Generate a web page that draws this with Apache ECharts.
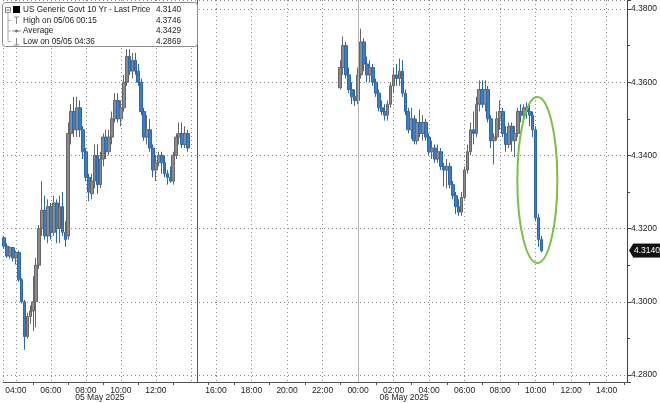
<!DOCTYPE html>
<html><head><meta charset="utf-8">
<script src="https://cdn.jsdelivr.net/npm/echarts@6/dist/echarts.min.js"></script>
<style>html,body{margin:0;padding:0;background:#fff}#c{width:660px;height:403px}</style>
</head><body><div id="c"></div>
<script>
// ---- Data: 10-minute bars, US Generic Govt 10 Yr yield ----
// Session 1 (05 May 2025)
const s1Times = ['03:20','03:30','03:40','03:50','04:00','04:10','04:20','04:30','04:40','04:50',
  '05:00','05:10','05:20','05:30','05:40','05:50','06:00','06:10','06:20','06:30','06:40','06:50',
  '07:00','07:10','07:20','07:30','07:40','07:50','08:00','08:10','08:20','08:30','08:40','08:50',
  '09:00','09:10','09:20','09:30','09:40','09:50','10:00','10:10','10:20','10:30','10:40','10:50',
  '11:00','11:10','11:20','11:30','11:40','11:50','12:00','12:10','12:20','12:30','12:40','12:50',
  '13:00','13:10','13:20','13:30','13:40','13:50'];
const s1Open  = [4.3175,4.3152,4.3125,4.3148,4.3120,4.3135,4.3060,4.3000,4.2905,4.2960,
  4.2975,4.3000,4.3100,4.3200,4.3250,4.3180,4.3260,4.3190,4.3270,4.3200,4.3260,4.3190,
  4.3180,4.3460,4.3520,4.3470,4.3530,4.3470,4.3410,4.3340,4.3295,4.3330,4.3400,4.3320,
  4.3390,4.3450,4.3410,4.3450,4.3500,4.3550,4.3500,4.3530,4.3600,4.3670,4.3630,4.3660,
  4.3630,4.3600,4.3520,4.3450,4.3470,4.3420,4.3360,4.3380,4.3400,4.3380,4.3350,4.3340,
  4.3330,4.3400,4.3450,4.3460,4.3430,4.3460];
const s1Close = [4.3152,4.3125,4.3148,4.3120,4.3135,4.3060,4.3000,4.2905,4.2960,4.2975,
  4.3000,4.3100,4.3200,4.3250,4.3180,4.3260,4.3190,4.3270,4.3200,4.3260,4.3190,4.3170,
  4.3460,4.3520,4.3470,4.3530,4.3470,4.3410,4.3340,4.3300,4.3330,4.3400,4.3320,4.3390,
  4.3450,4.3410,4.3450,4.3500,4.3550,4.3500,4.3530,4.3600,4.3670,4.3630,4.3660,4.3630,
  4.3600,4.3520,4.3450,4.3470,4.3420,4.3360,4.3380,4.3400,4.3380,4.3350,4.3340,4.3330,
  4.3400,4.3450,4.3460,4.3430,4.3460,4.3420];
const s1Low   = [4.3145,4.3120,4.3118,4.3110,4.3102,4.3055,4.2995,4.2869,4.2900,4.2940,
  4.2920,4.2930,4.3090,4.3180,4.3170,4.3160,4.3170,4.3180,4.3160,4.3160,4.3180,4.3150,
  4.3170,4.3430,4.3450,4.3450,4.3450,4.3390,4.3330,4.3275,4.3280,4.3310,4.3295,4.3310,
  4.3370,4.3390,4.3400,4.3430,4.3490,4.3490,4.3480,4.3520,4.3590,4.3620,4.3610,4.3620,
  4.3590,4.3510,4.3440,4.3430,4.3410,4.3340,4.3330,4.3370,4.3350,4.3340,4.3320,4.3325,
  4.3320,4.3390,4.3430,4.3420,4.3420,4.3410];
const s1High  = [4.3180,4.3160,4.3152,4.3150,4.3140,4.3140,4.3065,4.3005,4.2970,4.2990,
  4.3070,4.3120,4.3210,4.3330,4.3290,4.3280,4.3270,4.3290,4.3280,4.3290,4.3300,4.3220,
  4.3490,4.3540,4.3560,4.3560,4.3550,4.3480,4.3420,4.3350,4.3350,4.3430,4.3430,4.3410,
  4.3460,4.3470,4.3470,4.3520,4.3570,4.3570,4.3550,4.3620,4.3690,4.3690,4.3680,4.3680,
  4.3650,4.3610,4.3530,4.3510,4.3500,4.3430,4.3400,4.3410,4.3410,4.3400,4.3360,4.3370,
  4.3410,4.3460,4.3490,4.3490,4.3480,4.3470];

// Session 2 (05 May 23:00 -> 06 May 10:20)
const s2Times = ['05/05 23:00','05/05 23:10','05/05 23:20','05/05 23:30','05/05 23:40','05/05 23:50',
  '05/06 00:00','05/06 00:10','05/06 00:20','05/06 00:30','05/06 00:40','05/06 00:50',
  '05/06 01:00','05/06 01:10','05/06 01:20','05/06 01:30','05/06 01:40','05/06 01:50',
  '05/06 02:00','05/06 02:10','05/06 02:20','05/06 02:30','05/06 02:40','05/06 02:50',
  '05/06 03:00','05/06 03:10','05/06 03:20','05/06 03:30','05/06 03:40','05/06 03:50',
  '05/06 04:00','05/06 04:10','05/06 04:20','05/06 04:30','05/06 04:40','05/06 04:50',
  '05/06 05:00','05/06 05:10','05/06 05:20','05/06 05:30','05/06 05:40','05/06 05:50',
  '05/06 06:00','05/06 06:10','05/06 06:20','05/06 06:30','05/06 06:40','05/06 06:50',
  '05/06 07:00','05/06 07:10','05/06 07:20','05/06 07:30','05/06 07:40','05/06 07:50',
  '05/06 08:00','05/06 08:10','05/06 08:20','05/06 08:30','05/06 08:40','05/06 08:50',
  '05/06 09:00','05/06 09:10','05/06 09:20','05/06 09:30','05/06 09:40','05/06 09:50',
  '05/06 10:00','05/06 10:10','05/06 10:20'];
const s2Open  = [4.3585,4.3640,4.3700,4.3620,4.3580,4.3560,
  4.3550,4.3620,4.3710,4.3650,4.3620,4.3640,
  4.3600,4.3570,4.3530,4.3520,4.3510,4.3540,
  4.3590,4.3620,4.3610,4.3630,4.3570,4.3520,
  4.3470,4.3500,4.3440,4.3490,4.3460,4.3490,
  4.3450,4.3410,4.3420,4.3390,4.3410,4.3370,
  4.3360,4.3370,4.3320,4.3290,4.3260,4.3245,
  4.3285,4.3360,4.3410,4.3470,4.3460,4.3540,
  4.3580,4.3540,4.3580,4.3500,4.3440,4.3450,
  4.3500,4.3520,4.3460,4.3430,4.3480,4.3440,
  4.3460,4.3520,4.3510,4.3530,4.3520,4.3510,
  4.3470,4.3230,4.3170];
const s2Close = [4.3640,4.3700,4.3620,4.3580,4.3560,4.3550,
  4.3620,4.3710,4.3650,4.3620,4.3640,4.3600,
  4.3570,4.3530,4.3520,4.3510,4.3540,4.3590,
  4.3620,4.3610,4.3630,4.3570,4.3520,4.3470,
  4.3500,4.3440,4.3490,4.3460,4.3490,4.3450,
  4.3410,4.3420,4.3390,4.3410,4.3370,4.3360,
  4.3370,4.3320,4.3290,4.3260,4.3245,4.3285,
  4.3360,4.3410,4.3470,4.3460,4.3540,4.3580,
  4.3540,4.3580,4.3500,4.3440,4.3450,4.3500,
  4.3520,4.3460,4.3430,4.3480,4.3440,4.3460,
  4.3520,4.3510,4.3530,4.3520,4.3510,4.3470,
  4.3230,4.3170,4.3140];
const s2Low   = [4.3580,4.3620,4.3610,4.3570,4.3540,4.3535,
  4.3540,4.3610,4.3630,4.3600,4.3600,4.3590,
  4.3560,4.3520,4.3510,4.3495,4.3495,4.3530,
  4.3570,4.3590,4.3590,4.3560,4.3510,4.3460,
  4.3445,4.3430,4.3430,4.3450,4.3440,4.3440,
  4.3400,4.3390,4.3380,4.3380,4.3360,4.3315,
  4.3310,4.3310,4.3280,4.3240,4.3235,4.3235,
  4.3280,4.3350,4.3400,4.3430,4.3450,4.3520,
  4.3530,4.3520,4.3490,4.3420,4.3375,4.3440,
  4.3470,4.3450,4.3410,4.3420,4.3410,4.3395,
  4.3450,4.3490,4.3500,4.3500,4.3480,4.3450,
  4.3220,4.3150,4.3135];
const s2High  = [4.3660,4.3725,4.3710,4.3640,4.3600,4.3580,
  4.3640,4.3746,4.3720,4.3670,4.3660,4.3650,
  4.3610,4.3580,4.3550,4.3540,4.3550,4.3600,
  4.3640,4.3650,4.3665,4.3660,4.3580,4.3530,
  4.3530,4.3510,4.3500,4.3525,4.3510,4.3500,
  4.3460,4.3440,4.3430,4.3430,4.3420,4.3380,
  4.3390,4.3380,4.3330,4.3300,4.3280,4.3300,
  4.3370,4.3430,4.3490,4.3520,4.3560,4.3605,
  4.3605,4.3605,4.3590,4.3510,4.3460,4.3520,
  4.3550,4.3530,4.3480,4.3490,4.3490,4.3480,
  4.3530,4.3540,4.3540,4.3545,4.3540,4.3520,
  4.3480,4.3240,4.3180];

const yTickLabels = ['4.2800','4.3000','4.3200','4.3400','4.3600','4.3800'];
const legendRows = [
  {label:'US Generic Govt 10 Yr - Last Price', value:'4.3140'},
  {label:'High on 05/06 00:15', value:'4.3746'},
  {label:'Average', value:'4.3429'},
  {label:'Low on 05/05 04:36', value:'4.2869'}
];
const lastPrice = 4.3140;
const dayLabels = [{text:'05 May 2025', grid:0, at:8.8}, {text:'06 May 2025', grid:1, at:26.6}];

// ---- helpers ----
function hoursS1(t){ const [h,m]=t.split(':').map(Number); return h+m/60; }
function hoursS2(t){ const d=parseInt(t.slice(3,5),10); const [h,m]=t.slice(6).split(':').map(Number); return (d-5)*24+h+m/60; }
const s1Data = s1Times.map((t,i)=>[hoursS1(t), s1Open[i], s1Close[i], s1Low[i], s1High[i]]);
const s2Data = s2Times.map((t,i)=>[hoursS2(t), s2Open[i], s2Close[i], s2Low[i], s2High[i]]);

const FONT = 'Liberation Sans';
const yMin = 4.27809, yMax = 4.38246;
const x2Max = 39.15;
const pad = n => (n<10?'0':'')+n;
function xLabel(lo, hi){ return v => { const r=Math.round(v*1000)/1000; return (r>=lo && r<=hi && r%2===0) ? pad(((r%24)+24)%24)+':00' : ''; }; }

const dotted = {show:true, lineStyle:{type:[1,3], color:'#8a8a8a', width:1}};
function xAxisCfg(gi, min, max, lo, hi){
  return {type:'value', gridIndex:gi, min:min, max:max, minInterval:2, maxInterval:2,
    axisLine:{show:true, lineStyle:{color:'#555', width:1}},
    axisTick:{show:false},
    minorTick:{show:true, splitNumber:2, length:3, lineStyle:{color:'#555'}},
    minorSplitLine:{show:false},
    splitLine:dotted,
    axisLabel:{formatter:xLabel(lo,hi), color:'#222', fontSize:8.5, fontFamily:FONT, margin:4, showMinLabel:true, showMaxLabel:true}};
}
function yAxisCfg(gi, visible){
  return {type:'value', gridIndex:gi, position:'right', min:yMin, max:yMax,
    minInterval:0.02, maxInterval:0.02,
    axisLine:{show:visible, lineStyle:{color:'#444', width:1}},
    axisTick:{show:visible, length:4, lineStyle:{color:'#444'}},
    minorTick:{show:visible, splitNumber:2, length:3, lineStyle:{color:'#444'}},
    splitLine:dotted,
    axisLabel:{show:visible, showMinLabel:false, showMaxLabel:false, color:'#222', fontSize:8.5, fontFamily:FONT, margin:4,
      formatter:v=>{const s=v.toFixed(4); return yTickLabels.indexOf(s)>=0?s:'';}}};
}
const candleStyle = {color:'#8b8b8b', color0:'#3c7ec6', borderColor:'#666', borderColor0:'#2a68ad', borderWidth:1};

const chart = echarts.init(document.getElementById('c'), null, {renderer:'canvas'});
chart.setOption({
  animation:false,
  backgroundColor:'#fff',
  grid:[
    {left:0, top:0, width:216, bottom:21},
    {left:216, top:0, right:32, bottom:21}
  ],
  xAxis:[ xAxisCfg(0, 3.268, 15.437, 4, 12), xAxisCfg(1, 16, x2Max, 16, 38) ],
  yAxis:[ yAxisCfg(0, false), yAxisCfg(1, true) ],
  series:[
    {type:'candlestick', xAxisIndex:0, yAxisIndex:0, data:s1Data, encode:{x:0, y:[1,2,3,4]},
      barWidth:3.2, itemStyle:candleStyle,
      markLine:{silent:true, symbol:'none', label:{show:false}, lineStyle:{type:'solid', color:'#555', width:1},
        data:[{xAxis:14.366}]}},
    {type:'candlestick', xAxisIndex:1, yAxisIndex:1, data:s2Data, encode:{x:0, y:[1,2,3,4]},
      barWidth:3.2, itemStyle:candleStyle,
      markLine:{silent:true, symbol:'none', label:{show:false},
        lineStyle:{type:'solid', color:'#b5b5b5', width:1},
        data:[{xAxis:24}]}}
  ]
});

// ---- annotations positioned from data coordinates ----
const g = [];
dayLabels.forEach(d=>{
  const p = chart.convertToPixel({gridIndex:d.grid}, [d.at, yMin]);
  g.push({type:'text', x:p[0], y:398, style:{text:d.text, fill:'#222', font:'8.5px '+FONT, align:'center', verticalAlign:'middle'}});
});
const ec = chart.convertToPixel({gridIndex:1}, [34.1, 4.3333]);
g.push({type:'ellipse', shape:{cx:ec[0], cy:ec[1], rx:20, ry:83}, style:{fill:'none', stroke:'#79c043', lineWidth:2}, z:10});

// last price tag on the value axis
const lp = chart.convertToPixel({gridIndex:1}, [x2Max, lastPrice]);
g.push({type:'polygon', shape:{points:[[lp[0]+2, lp[1]],[lp[0]+6, lp[1]-6.5],[lp[0]+6, lp[1]+6.5]]}, style:{fill:'#111'}, z:30});
g.push({type:'text', x:lp[0]+6, y:lp[1], style:{text:lastPrice.toFixed(4), fill:'#fff', font:'8.5px '+FONT,
  verticalAlign:'middle', backgroundColor:'#111', padding:[3,3,2,1]}, z:30});

// legend box
const rowY = [10, 20.5, 31, 41.5];
g.push({type:'rect', shape:{x:2.5, y:2.5, width:195, height:44, r:3}, style:{fill:'#fff', stroke:'#8a8a8a', lineWidth:1}, z:20});
g.push({type:'rect', shape:{x:5.5, y:7.5, width:5, height:5}, style:{fill:'#fff', stroke:'#888', lineWidth:1}, z:21});
g.push({type:'line', shape:{x1:6.5, y1:10, x2:9.5, y2:10}, style:{stroke:'#666', lineWidth:1}, z:21});
g.push({type:'line', shape:{x1:8, y1:12.5, x2:8, y2:41.5}, style:{stroke:'#aaa', lineWidth:1}, z:21});
[20.5, 31, 41.5].forEach(y=>g.push({type:'line', shape:{x1:8, y1:y, x2:11, y2:y}, style:{stroke:'#aaa', lineWidth:1}, z:21}));
g.push({type:'rect', shape:{x:13, y:6, width:7, height:7}, style:{fill:'#000'}, z:21});
g.push({type:'line', shape:{x1:16.5, y1:17, x2:16.5, y2:24}, style:{stroke:'#888', lineWidth:1}, z:21});
g.push({type:'line', shape:{x1:14, y1:17, x2:19, y2:17}, style:{stroke:'#888', lineWidth:1}, z:21});
g.push({type:'line', shape:{x1:12, y1:31, x2:21, y2:31}, style:{stroke:'#888', lineWidth:1}, z:21});
g.push({type:'circle', shape:{cx:16.5, cy:31, r:1.5}, style:{fill:'#777'}, z:21});
g.push({type:'line', shape:{x1:16.5, y1:38, x2:16.5, y2:45}, style:{stroke:'#888', lineWidth:1}, z:21});
g.push({type:'line', shape:{x1:14, y1:45, x2:19, y2:45}, style:{stroke:'#888', lineWidth:1}, z:21});
legendRows.forEach((r,i)=>{
  g.push({type:'text', x:23, y:rowY[i], style:{text:r.label, fill:'#222', font:'8.2px '+FONT, verticalAlign:'middle'}, z:22});
  g.push({type:'text', x:181, y:rowY[i], style:{text:r.value, fill:'#222', font:'8.2px '+FONT, align:'right', verticalAlign:'middle'}, z:22});
});
chart.setOption({graphic:g});
</script>
</body></html>
